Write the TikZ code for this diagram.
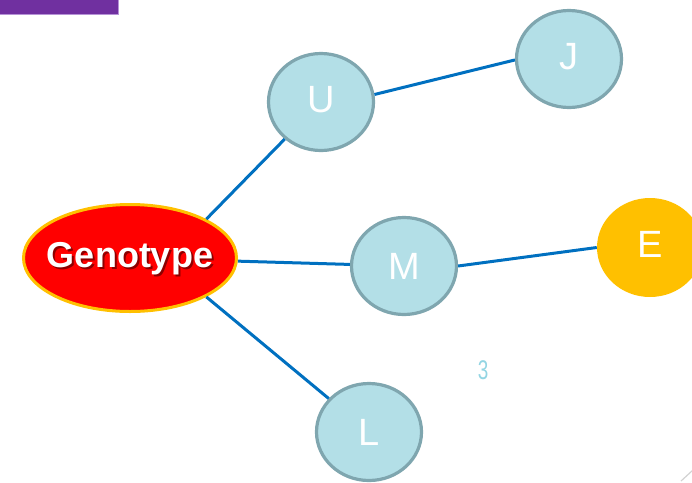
\documentclass[tikz,border=0pt]{standalone}
\usepackage{fontspec}
\setmainfont{Liberation Sans}
\usetikzlibrary{shapes.geometric}

\definecolor{barpurple}{HTML}{7030A0}
\definecolor{baredge}{HTML}{B592D6}
\definecolor{linkblue}{HTML}{0070C0}
\definecolor{bubblefill}{HTML}{B3DFE7}
\definecolor{bubbleedge}{HTML}{7FA6AF}
\definecolor{gold}{HTML}{FFC000}
\definecolor{pagenum}{HTML}{93D5E3}

\tikzset{
  bubble/.style={ellipse, fill=bubblefill, draw=bubbleedge, line width=3.2pt,
    minimum width=105pt, minimum height=97pt, inner sep=0pt},
  letter/.style={text=white, inner sep=0pt, font=\fontsize{38}{38}\selectfont},
  link/.style={draw=linkblue, line width=3pt},
  bigword/.style={inner sep=0pt, font=\fontsize{36}{36}\selectfont\bfseries}
}

\begin{document}
\begin{tikzpicture}[x=1pt, y=-1pt]
  \useasboundingbox (0,0) rectangle (692,482);
  \clip (0,0) rectangle (692,482);

  % title bar in the corner
  \path[fill=barpurple, draw=baredge, line width=0.8pt] (-2,-2) rectangle (118,14);

  % central node
  \node[ellipse, fill=red, draw=gold, line width=3pt,
        minimum width=213pt, minimum height=107pt, inner sep=0pt] (geno) at (130,258) {};

  % outer nodes
  \node[bubble] (u) at (321,102) {};
  \node[bubble] (j) at (569,59)  {};
  \node[bubble] (m) at (404,266) {};
  \node[bubble] (l) at (369,432) {};
  \node[ellipse, fill=gold, minimum width=106pt, minimum height=99pt, inner sep=0pt] (e) at (650,247.5) {};

  % connectors
  \draw[link] (geno.27) -- (u);
  \draw[link] (geno) -- (m);
  \draw[link] (geno.-27) -- (l);
  \draw[link] (u.8) -- (j.181);
  \draw[link] (m.0) -- (e.180);

  % labels: the central word carries a soft drop shadow
  \node[bigword, text=black, opacity=0.45] (genoshadow)
    at ([xshift=2pt, yshift=-3pt]geno.center) {Genotype};
  \node[bigword, text=white] (genotext) at ([yshift=-1pt]geno.center) {Genotype};
  \node[letter] (utext) at ([yshift=2pt]u.center) {U};
  \node[letter] (jtext) at ([yshift=2pt]j.center) {J};
  \node[letter] (mtext) at (m.center) {M};
  \node[letter] (ltext) at (l.center) {L};
  \node[letter] (etext) at ([yshift=3pt]e.center) {E};

  % page number
  \node[text=pagenum, inner sep=0pt, xscale=0.7, font=\fontsize{27}{27}\selectfont] (num) at (483,370) {3};

  % corner mark
  \coordinate (c1) at (681,481);
  \coordinate (c2) at (693,470);
  \draw[gray!35, line width=1.2pt] (c1) -- (c2);
\end{tikzpicture}
\end{document}
